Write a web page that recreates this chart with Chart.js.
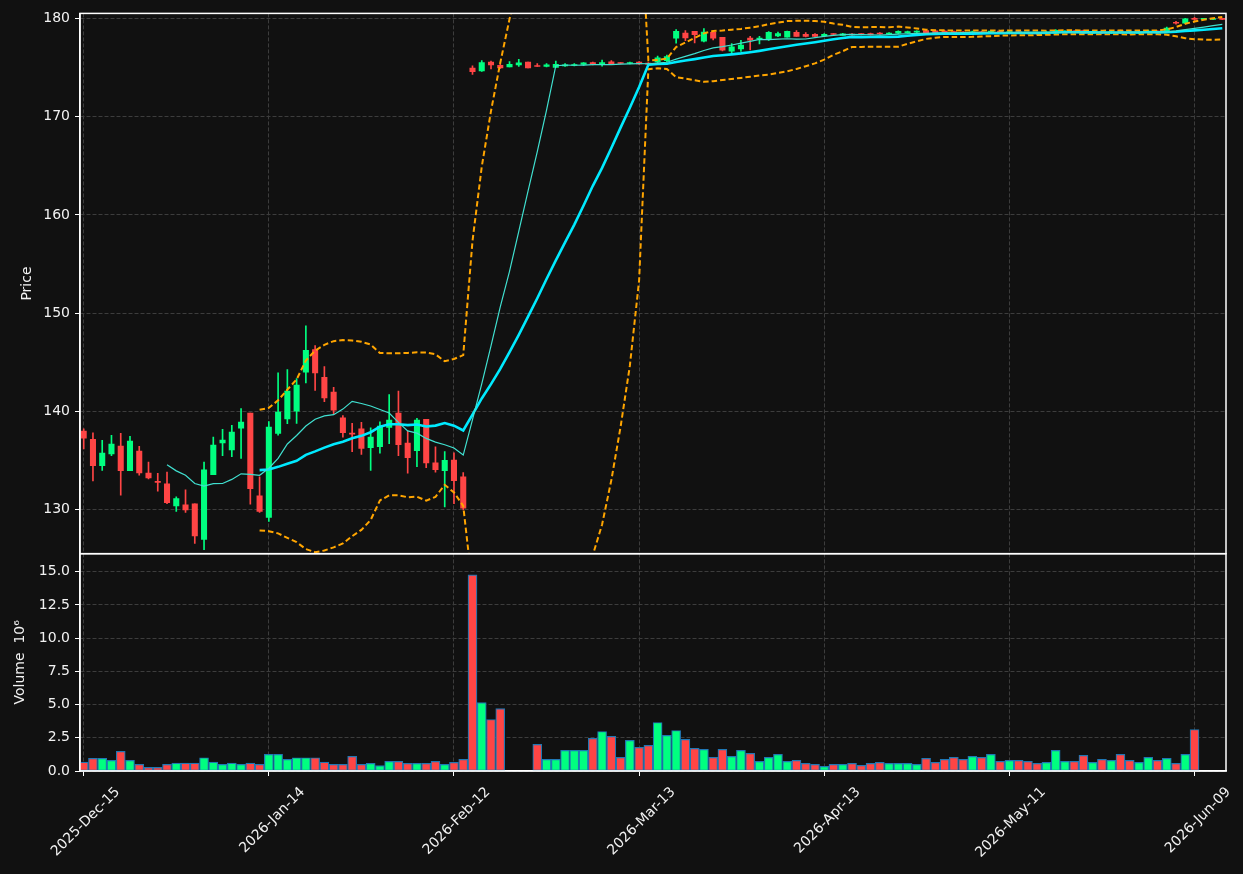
<!DOCTYPE html>
<html>
<head>
<meta charset="utf-8">
<script src="https://cdn.jsdelivr.net/npm/chart.js@4.4.1/dist/chart.umd.min.js"></script>
<style>
  html, body { margin: 0; padding: 0; background: #111111; }
  canvas { display: block; }
</style>
</head>
<body>
<canvas id="chartArea" width="1243" height="874"></canvas>
<script>
// daily OHLC, index 0 = 2025-Dec-15
const opens = [
  138.0, 137.17, 134.5, 135.68, 136.49, 133.99, 135.98, 133.75, 132.9, 132.64,
  130.41, 130.51, 130.61, 126.99, 133.58, 136.8, 136.09, 138.32, 139.84, 131.42,
  129.22, 137.78, 139.26, 140.04, 144.0, 146.3, 143.49, 141.97, 139.36, 137.76,
  138.24, 136.33, 136.43, 138.39, 139.84, 136.8, 136.02, 139.2, 134.77, 133.99,
  135.07, 133.35, 174.93, 174.66, 175.54, 175.23, 175.06, 175.27, 175.54, 175.2,
  175.1, 175.0, 175.17, 175.2, 175.3, 175.5, 175.3, 175.57, 175.47, 175.4,
  175.55, 175.45, 175.57, 175.7, 177.97, 178.51, 178.68, 177.67, 178.58, 178.07,
  176.65, 176.89, 178.0, 177.87, 177.94, 178.21, 178.07, 178.58, 178.38, 178.38,
  178.24, 178.4, 178.27, 178.4, 178.4, 178.44, 178.5, 178.4, 178.5, 178.55,
  178.6, 178.75, 178.72, 178.7, 178.65, 178.6, 178.45, 178.62, 178.48, 178.7,
  178.52, 178.65, 178.55, 178.5, 178.42, 178.5, 178.6, 178.7, 178.75, 178.5,
  178.65, 178.5, 178.75, 178.6, 178.48, 178.55, 178.7, 178.6, 179.6, 179.5,
  180.0, 179.9, 179.88, 179.95
];
const highs = [
  138.25, 137.84, 137.07, 137.57, 137.78, 137.47, 136.46, 134.87, 133.72, 133.85,
  131.32, 132.03, 130.61, 134.87, 137.4, 138.18, 138.59, 140.31, 139.84, 133.35,
  138.99, 143.93, 144.27, 143.35, 148.73, 146.7, 144.57, 142.47, 139.6, 138.79,
  138.91, 138.35, 138.96, 141.73, 142.07, 138.01, 139.3, 139.2, 136.42, 135.92,
  135.81, 133.79, 175.17, 175.71, 175.64, 175.37, 175.6, 175.84, 175.54, 175.4,
  175.4, 175.64, 175.4, 175.4, 175.5, 175.55, 175.74, 175.7, 175.5, 175.55,
  175.6, 175.5, 176.15, 176.25, 178.85, 178.75, 178.68, 178.95, 178.7, 178.07,
  177.43, 177.77, 178.17, 178.17, 178.65, 178.61, 178.7, 178.75, 178.55, 178.45,
  178.45, 178.45, 178.48, 178.45, 178.45, 178.5, 178.55, 178.55, 178.72, 178.7,
  178.72, 178.8, 178.78, 178.75, 178.7, 178.65, 178.7, 178.68, 178.75, 178.72,
  178.7, 178.7, 178.6, 178.55, 178.65, 178.85, 178.75, 178.75, 178.8, 178.7,
  178.7, 178.7, 178.8, 178.65, 178.7, 178.8, 178.72, 179.1, 179.7, 180.0,
  180.1, 179.95, 179.95, 179.98
];
const lows = [
  136.2, 132.94, 134.02, 135.51, 131.49, 133.99, 133.52, 133.14, 131.89, 130.64,
  129.83, 129.73, 126.59, 125.94, 133.58, 135.51, 135.41, 135.24, 130.57, 129.73,
  128.82, 137.6, 138.76, 138.79, 142.91, 142.14, 141.0, 139.7, 137.4, 135.91,
  135.63, 134.02, 135.76, 136.73, 135.51, 133.72, 134.39, 134.29, 133.82, 130.3,
  130.64, 130.0, 174.29, 174.59, 174.86, 174.9, 175.06, 175.1, 174.96, 175.1,
  175.06, 175.0, 175.1, 175.15, 175.2, 175.25, 175.13, 175.3, 175.35, 175.35,
  175.3, 175.25, 175.5, 175.6, 177.46, 177.73, 177.5, 177.6, 177.8, 176.69,
  176.4, 176.62, 176.79, 177.4, 177.74, 178.14, 178.07, 178.17, 178.1, 178.1,
  178.2, 178.3, 178.25, 178.28, 178.3, 178.28, 178.35, 178.35, 178.45, 178.5,
  178.55, 178.45, 178.5, 178.5, 178.45, 178.4, 178.4, 178.4, 178.45, 178.45,
  178.5, 178.45, 178.4, 178.35, 178.4, 178.45, 178.55, 178.5, 178.45, 178.45,
  178.45, 178.45, 178.45, 178.4, 178.45, 178.5, 178.5, 178.55, 179.4, 179.45,
  179.8, 179.85, 179.85, 179.85
];
const closes = [
  137.3, 134.5, 135.78, 136.69, 133.99, 137.0, 133.75, 133.25, 132.8, 130.74,
  131.15, 130.0, 127.36, 134.06, 136.59, 137.1, 137.91, 138.93, 132.16, 129.83,
  138.42, 139.94, 142.07, 142.68, 146.23, 143.93, 141.39, 140.14, 137.84, 137.7,
  136.24, 137.4, 138.52, 139.13, 136.63, 135.31, 139.13, 134.77, 134.09, 135.04,
  132.97, 130.17, 174.56, 175.5, 175.27, 174.96, 175.33, 175.47, 174.96, 175.1,
  175.27, 175.33, 175.27, 175.3, 175.47, 175.3, 175.5, 175.37, 175.4, 175.5,
  175.37, 175.3, 175.98, 176.11, 178.68, 178.0, 178.34, 178.61, 177.97, 176.76,
  177.09, 177.29, 177.77, 178.0, 178.58, 178.44, 178.68, 178.17, 178.17, 178.17,
  178.38, 178.35, 178.41, 178.3, 178.34, 178.3, 178.4, 178.5, 178.68, 178.65,
  178.7, 178.5, 178.55, 178.55, 178.5, 178.45, 178.62, 178.48, 178.7, 178.52,
  178.65, 178.5, 178.45, 178.42, 178.6, 178.78, 178.7, 178.55, 178.5, 178.65,
  178.5, 178.62, 178.5, 178.48, 178.6, 178.7, 178.58, 179.0, 179.5, 179.95,
  179.9, 179.9, 179.9, 179.9
];
// volume in millions
const volumes = [
  0.675, 0.95, 0.95, 0.8, 1.475, 0.8, 0.5, 0.275, 0.275, 0.5,
  0.6, 0.6, 0.6, 1.0, 0.675, 0.5, 0.6, 0.5, 0.6, 0.5,
  1.25, 1.25, 0.875, 1.0, 1.0, 1.0, 0.675, 0.5, 0.5, 1.1,
  0.5, 0.575, 0.4, 0.725, 0.725, 0.575, 0.575, 0.575, 0.725, 0.5,
  0.65, 0.875, 14.75, 5.15, 3.875, 4.7, 0, 0, 0, 2.0,
  0.875, 0.875, 1.55, 1.55, 1.55, 2.45, 2.975, 2.6, 1.025, 2.3,
  1.775, 1.925, 3.65, 2.675, 3.05, 2.375, 1.7, 1.625, 1.025, 1.625,
  1.1, 1.55, 1.325, 0.725, 1.025, 1.25, 0.725, 0.8, 0.575, 0.5,
  0.35, 0.5, 0.5, 0.575, 0.425, 0.575, 0.65, 0.575, 0.575, 0.575,
  0.5, 0.95, 0.65, 0.875, 1.025, 0.875, 1.1, 1.025, 1.25, 0.725,
  0.8, 0.8, 0.725, 0.575, 0.65, 1.55, 0.725, 0.725, 1.175, 0.65,
  0.875, 0.8, 1.25, 0.8, 0.65, 1.025, 0.8, 0.95, 0.575, 1.25,
  3.125, 0, 0, 0
];
const tickIdx = [0, 20, 40, 60, 80, 100, 120];
const tickLabels = ["2025-Dec-15", "2026-Jan-14", "2026-Feb-12", "2026-Mar-13", "2026-Apr-13", "2026-May-11", "2026-Jun-09"];

const upColor = "#00ff80";
const downColor = "#ff4545";

// indicators from the closes
function sma(arr, n) {
  return arr.map((_, i) => i < n - 1 ? null : arr.slice(i - n + 1, i + 1).reduce((a, b) => a + b, 0) / n);
}
function band(arr, n, k) {
  const mid = sma(arr, n);
  return arr.map((_, i) => {
    if (mid[i] === null) return null;
    const win = arr.slice(i - n + 1, i + 1);
    const sd = Math.sqrt(win.reduce((a, b) => a + (b - mid[i]) ** 2, 0) / n);
    return mid[i] + k * sd;
  });
}
const mav10 = sma(closes, 10);
const mav20 = sma(closes, 20);
const bbUp = band(closes, 20, 2);
const bbLo = band(closes, 20, -2);

const idx = closes.map((_, i) => i);
const isUp = idx.map(i => closes[i] >= opens[i]);
const candleColors = isUp.map(u => u ? upColor : downColor);
const pts = arr => idx.map(i => ({ x: i, y: arr[i] }));

const gridCol = "#3d3d3d";
const txt = "#f2f2f2";
Chart.defaults.font.family = "'DejaVu Sans', sans-serif";
Chart.defaults.font.size = 14;
Chart.defaults.color = txt;

const framePlugin = {
  id: "frame",
  beforeDraw(chart) {
    const ctx = chart.ctx;
    ctx.save();
    ctx.fillStyle = "#111111";
    ctx.fillRect(0, 0, chart.width, chart.height);
    ctx.restore();
  },
  afterDraw(chart) {
    const { ctx, chartArea } = chart;
    ctx.save();
    ctx.strokeStyle = "#ffffff";
    ctx.lineWidth = 1.5;
    ["y", "yv"].forEach(id => {
      const s = chart.scales[id];
      ctx.strokeRect(chartArea.left, s.top, chartArea.right - chartArea.left, s.bottom - s.top);
    });
    ctx.restore();
  }
};

const chartCanvas = document.getElementById("chartArea");
const chart = new Chart(chartCanvas, {
  type: "bar",
  data: {
    datasets: [
      { type: "line", data: pts(mav10), borderColor: "#40e0d0", borderWidth: 1.2, pointRadius: 0, yAxisID: "y", order: 0 },
      { type: "line", data: pts(mav20), borderColor: "#00eaff", borderWidth: 2.6, pointRadius: 0, yAxisID: "y", order: 1 },
      { type: "line", data: pts(bbUp), borderColor: "#ffa500", borderWidth: 2, borderDash: [5.5, 3], pointRadius: 0, yAxisID: "y", order: 2 },
      { type: "line", data: pts(bbLo), borderColor: "#ffa500", borderWidth: 2, borderDash: [5.5, 3], pointRadius: 0, yAxisID: "y", order: 3 },
      { data: idx.map(i => ({ x: i, y: [opens[i], closes[i]] })), backgroundColor: candleColors, barThickness: 5.4, minBarLength: 1, grouped: false, yAxisID: "y", order: 4 },
      { data: idx.map(i => ({ x: i, y: [lows[i], highs[i]] })), backgroundColor: candleColors, barThickness: 1, grouped: false, yAxisID: "y", order: 5 },
      { data: idx.map(i => ({ x: i, y: volumes[i] })), backgroundColor: candleColors, borderColor: "#1f77b4", borderWidth: 1.2, borderSkipped: false, barThickness: 9, grouped: false, yAxisID: "yv", order: 6 }
    ]
  },
  options: {
    responsive: false,
    animation: false,
    devicePixelRatio: 1,
    layout: { padding: { top: 11, right: 17, left: 0, bottom: 0 } },
    plugins: { legend: { display: false }, tooltip: { enabled: false } },
    scales: {
      x: {
        type: "linear",
        min: -0.4,
        max: 123.4,
        offset: false,
        afterBuildTicks: s => { s.ticks = tickIdx.map(v => ({ value: v })); },
        afterFit: s => { s.height = 103; },
        ticks: {
          callback: v => tickLabels[tickIdx.indexOf(v)],
          minRotation: 45, maxRotation: 45,
          labelOffset: 34, padding: 8, color: txt
        },
        grid: { color: gridCol, offset: false, tickLength: 5, tickColor: "#ffffff" },
        border: { color: "#ffffff", width: 1.5, dash: [4, 2] }
      },
      yv: {
        position: "left",
        stack: "panels",
        stackWeight: 218,
        min: 0,
        max: 16.35,
        afterFit: s => { s.width = 80; },
        ticks: { stepSize: 2.5, includeBounds: false, padding: 5, callback: v => v.toFixed(1), color: txt },
        grid: { color: gridCol, tickLength: 5, tickColor: "#ffffff" },
        border: { color: "#ffffff", width: 1.5, dash: [4, 2] },
        title: { display: true, text: "Volume  10⁶", color: txt, padding: { top: 12, bottom: 0 } }
      },
      y: {
        position: "left",
        stack: "panels",
        stackWeight: 542,
        min: 125.54,
        max: 180.5,
        afterFit: s => { s.width = 80; },
        ticks: { stepSize: 10, includeBounds: false, padding: 5, color: txt },
        grid: { color: gridCol, tickLength: 5, tickColor: "#ffffff" },
        border: { color: "#ffffff", width: 1.5, dash: [4, 2] },
        title: { display: true, text: "Price", color: txt, padding: { top: 19, bottom: 0 } }
      }
    }
  },
  plugins: [framePlugin]
});
</script>
</body>
</html>
